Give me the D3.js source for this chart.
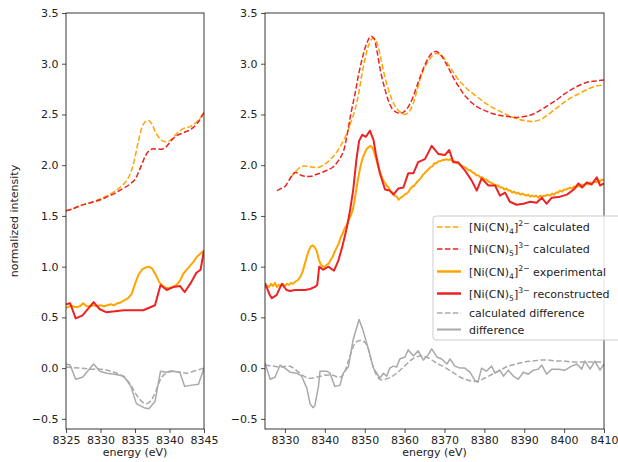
<!DOCTYPE html>
<html>
<head>
<meta charset="utf-8">
<script src="https://cdn.jsdelivr.net/npm/d3@7"></script>
<style>
  html, body { margin: 0; padding: 0; background: #fff; }
  svg { display: block; font-family: "DejaVu Sans", sans-serif; }
</style>
</head>
<body>
<svg id="chart" width="618" height="462"></svg>
<script>
// ---------- Left panel (pre-edge, 8325–8345 eV) ----------
const leftCalc4E = [8325, 8326, 8327, 8328, 8329, 8330, 8331, 8332, 8333, 8333.8, 8334.5, 8335, 8335.5, 8336, 8336.5, 8337, 8337.5, 8338, 8338.5, 8339, 8339.5, 8340, 8340.5, 8341, 8342, 8343, 8344, 8345];
const leftCalc4V = [1.55, 1.57, 1.60, 1.62, 1.64, 1.67, 1.70, 1.74, 1.79, 1.85, 1.95, 2.08, 2.24, 2.37, 2.43, 2.44, 2.40, 2.32, 2.27, 2.24, 2.23, 2.24, 2.27, 2.31, 2.36, 2.38, 2.43, 2.52];
const leftCalc5E = [8325, 8326, 8327, 8328, 8329, 8330, 8331, 8332, 8333, 8334, 8335, 8335.5, 8336, 8336.5, 8337, 8337.5, 8338, 8339, 8339.5, 8340, 8340.5, 8341, 8342, 8343, 8344, 8345];
const leftCalc5V = [1.55, 1.57, 1.60, 1.62, 1.64, 1.66, 1.69, 1.72, 1.76, 1.80, 1.86, 1.93, 2.01, 2.09, 2.14, 2.16, 2.16, 2.16, 2.18, 2.22, 2.26, 2.29, 2.32, 2.35, 2.41, 2.52];
const leftExpE = d3.range(8325, 8345.01, 0.5);
const leftExpV = [0.59, 0.61, 0.61, 0.60, 0.61, 0.64, 0.61, 0.61, 0.62, 0.61, 0.62, 0.61, 0.62, 0.63, 0.62, 0.64, 0.65, 0.67, 0.69, 0.73, 0.83, 0.92, 0.97, 0.99, 1.00, 0.98, 0.92, 0.85, 0.81, 0.79, 0.79, 0.80, 0.82, 0.86, 0.93, 0.97, 1.01, 1.05, 1.10, 1.13, 1.16];
const leftRecE = [8325, 8325.6, 8326.4, 8327.4, 8329, 8329.9, 8330.9, 8332.1, 8333.4, 8334.8, 8336.2, 8337.9, 8338.7, 8339.6, 8340.6, 8341.5, 8342.2, 8343, 8343.9, 8344.5, 8345];
const leftRecV = [0.63, 0.64, 0.49, 0.52, 0.65, 0.58, 0.55, 0.56, 0.57, 0.57, 0.57, 0.62, 0.82, 0.77, 0.80, 0.81, 0.75, 0.83, 0.94, 0.97, 1.16];
const leftCalcDiffE = [8325, 8327, 8329, 8330, 8331, 8332, 8333, 8334, 8334.5, 8335, 8335.5, 8336, 8336.5, 8337, 8337.5, 8338, 8338.5, 8339, 8339.5, 8340, 8340.5, 8341.5, 8342.5, 8343.5, 8344.5, 8345];
const leftCalcDiffV = [0.01, 0.00, -0.01, -0.01, -0.02, -0.04, -0.07, -0.13, -0.18, -0.24, -0.29, -0.33, -0.35, -0.34, -0.30, -0.23, -0.14, -0.08, -0.05, -0.03, -0.03, -0.04, -0.05, -0.03, -0.01, 0.00];
const leftDiffE = [8325, 8325.6, 8326.4, 8327.4, 8329, 8329.9, 8330.9, 8332.1, 8333.4, 8334.4, 8335.2, 8336.3, 8337, 8337.9, 8338.7, 8339.6, 8340.6, 8341.5, 8342.2, 8343, 8344.2, 8345];
const leftDiffV = [0.04, 0.03, -0.11, -0.09, 0.04, -0.03, -0.05, -0.06, -0.08, -0.18, -0.35, -0.39, -0.40, -0.33, -0.03, -0.04, -0.03, -0.04, -0.18, -0.17, -0.16, 0.00];

// ---------- Right panel (full edge, 8325–8410 eV) ----------
const rightCalc4E = [8331.5, 8332.5, 8333.5, 8334.5, 8335.5, 8337, 8338.5, 8340, 8341.5, 8343, 8344.5, 8345.5, 8346.5, 8347.6, 8348.5, 8349.2, 8350, 8350.8, 8351.7, 8352.4, 8353.2, 8354, 8355, 8356, 8357, 8358, 8359, 8360, 8361, 8362, 8363, 8364, 8365, 8366, 8367, 8368, 8369, 8370, 8371, 8372, 8373, 8374, 8375, 8376, 8378, 8380, 8382, 8384, 8386, 8388, 8390, 8392, 8394, 8396, 8398, 8400, 8402, 8404, 8406, 8408, 8410];
const rightCalc4V = [1.88, 1.93, 1.97, 1.99, 1.99, 1.98, 1.98, 2.01, 2.06, 2.13, 2.23, 2.31, 2.42, 2.55, 2.71, 2.87, 3.03, 3.16, 3.24, 3.25, 3.19, 3.06, 2.88, 2.74, 2.63, 2.56, 2.52, 2.50, 2.52, 2.59, 2.72, 2.86, 2.96, 3.03, 3.08, 3.10, 3.09, 3.05, 2.99, 2.93, 2.87, 2.82, 2.78, 2.74, 2.68, 2.62, 2.57, 2.53, 2.49, 2.46, 2.44, 2.43, 2.45, 2.50, 2.56, 2.62, 2.67, 2.71, 2.75, 2.78, 2.79];
const rightCalc5E = [8328, 8329, 8330, 8331, 8332, 8332.7, 8333.5, 8335, 8336.5, 8338, 8340, 8342, 8343.5, 8344.6, 8345.5, 8346.5, 8347.6, 8348.5, 8349.5, 8350.5, 8351.5, 8352.3, 8353, 8354, 8355, 8356, 8357, 8358, 8359, 8360, 8361, 8362, 8363, 8364, 8365, 8366, 8367, 8368, 8369, 8370, 8371, 8372, 8373, 8374, 8375, 8376, 8377, 8378, 8380, 8382, 8384, 8386, 8388, 8390, 8392, 8394, 8396, 8398, 8400, 8402, 8404, 8406, 8408, 8410];
const rightCalc5V = [1.75, 1.77, 1.79, 1.85, 1.91, 1.93, 1.91, 1.89, 1.89, 1.91, 1.94, 1.98, 2.05, 2.13, 2.28, 2.50, 2.71, 2.90, 3.07, 3.20, 3.27, 3.25, 3.14, 2.92, 2.76, 2.63, 2.55, 2.52, 2.51, 2.53, 2.58, 2.66, 2.77, 2.88, 2.98, 3.06, 3.11, 3.12, 3.09, 3.03, 2.96, 2.88, 2.81, 2.75, 2.69, 2.65, 2.61, 2.58, 2.54, 2.51, 2.49, 2.48, 2.47, 2.48, 2.50, 2.54, 2.59, 2.64, 2.70, 2.75, 2.79, 2.82, 2.83, 2.84];
const rightExpE = d3.range(8325, 8410.01, 0.5);
const rightExpV = [
  0.79, 0.81, 0.80, 0.83, 0.81, 0.84, 0.80, 0.82, 0.81, 0.83,
  0.81, 0.83, 0.82, 0.84, 0.83, 0.85, 0.86, 0.88, 0.91, 0.96,
  1.03, 1.10, 1.16, 1.20, 1.21, 1.19, 1.15, 1.07, 1.02, 1.00,
  1.00, 1.02, 1.03, 1.07, 1.10, 1.15, 1.19, 1.23, 1.29, 1.33,
  1.38, 1.41, 1.46, 1.50, 1.56, 1.66, 1.79, 1.90, 2.00, 2.07,
  2.12, 2.16, 2.18, 2.19, 2.17, 2.11, 2.04, 1.97, 1.92, 1.86,
  1.83, 1.80, 1.78, 1.74, 1.73, 1.70, 1.69, 1.66, 1.68, 1.69,
  1.71, 1.72, 1.74, 1.77, 1.79, 1.80, 1.83, 1.85, 1.87, 1.90,
  1.92, 1.94, 1.96, 1.98, 1.99, 2.02, 2.02, 2.04, 2.04, 2.05,
  2.05, 2.06, 2.05, 2.06, 2.04, 2.04, 2.02, 2.02, 2.00, 1.99,
  1.98, 1.97, 1.95, 1.95, 1.93, 1.92, 1.90, 1.90, 1.88, 1.88,
  1.86, 1.86, 1.84, 1.83, 1.82, 1.81, 1.80, 1.80, 1.78, 1.78,
  1.76, 1.77, 1.75, 1.75, 1.73, 1.74, 1.72, 1.73, 1.71, 1.72,
  1.71, 1.70, 1.71, 1.69, 1.70, 1.69, 1.70, 1.68, 1.70, 1.69,
  1.70, 1.70, 1.71, 1.70, 1.72, 1.71, 1.73, 1.73, 1.75, 1.74,
  1.76, 1.76, 1.77, 1.78, 1.77, 1.79, 1.78, 1.80, 1.79, 1.81,
  1.80, 1.82, 1.81, 1.83, 1.82, 1.84, 1.83, 1.85, 1.84, 1.86,
  1.85
];
const rightRecE = [8325, 8326.2, 8326.7, 8327.9, 8329.2, 8330.4, 8331.3, 8332.5, 8333.8, 8335, 8336.3, 8337.5, 8338.1, 8338.6, 8339.6, 8340.9, 8342.3, 8343.4, 8344.4, 8345.5, 8346.3, 8347.1, 8347.9, 8348.6, 8349.4, 8350.3, 8351.3, 8352.2, 8352.8, 8353.8, 8355.1, 8356.3, 8357.2, 8358.4, 8359.7, 8360.9, 8362.2, 8363.4, 8365.1, 8366.8, 8368.5, 8370.1, 8371.2, 8372.2, 8373.4, 8375.1, 8376.8, 8378.1, 8379.3, 8381, 8382.7, 8383.9, 8385.2, 8386.4, 8388.1, 8389.8, 8391.5, 8393.1, 8394.4, 8395.6, 8396.9, 8399, 8400.7, 8402.4, 8403.6, 8404.5, 8405.7, 8406.9, 8408.2, 8409, 8410];
const rightRecV = [0.84, 0.72, 0.69, 0.72, 0.83, 0.77, 0.76, 0.77, 0.77, 0.77, 0.78, 0.80, 0.82, 1.00, 0.97, 1.00, 0.96, 1.06, 1.20, 1.38, 1.55, 1.75, 2.05, 2.24, 2.30, 2.28, 2.34, 2.25, 2.11, 1.92, 1.76, 1.75, 1.71, 1.77, 1.78, 1.92, 1.92, 2.03, 2.06, 2.19, 2.11, 2.10, 2.15, 2.03, 2.03, 1.95, 1.85, 1.75, 1.87, 1.80, 1.80, 1.70, 1.73, 1.64, 1.61, 1.62, 1.64, 1.63, 1.68, 1.62, 1.68, 1.69, 1.71, 1.76, 1.82, 1.78, 1.83, 1.81, 1.88, 1.80, 1.82];
const rightCalcDiffE = [8325, 8327, 8329, 8331, 8332.5, 8334, 8336, 8338, 8340, 8342, 8343.5, 8344.5, 8346, 8347.5, 8348.5, 8349.5, 8350.5, 8351.5, 8352.5, 8353.8, 8355, 8356.5, 8358, 8360, 8362, 8364, 8366, 8368, 8370, 8372, 8374, 8376, 8378, 8380, 8382, 8384, 8386, 8388, 8390, 8392, 8394, 8396, 8398, 8400, 8402, 8404, 8406, 8408, 8410];
const rightCalcDiffV = [0.03, 0.02, 0.01, 0.02, -0.01, -0.06, -0.10, -0.09, -0.07, -0.07, -0.09, -0.07, 0.08, 0.24, 0.27, 0.27, 0.23, 0.10, -0.03, -0.11, -0.11, -0.09, -0.05, 0.02, 0.09, 0.12, 0.10, 0.05, 0.01, -0.04, -0.09, -0.12, -0.13, -0.10, -0.06, -0.02, 0.02, 0.04, 0.06, 0.07, 0.08, 0.08, 0.07, 0.07, 0.06, 0.06, 0.06, 0.06, 0.06];
const rightDiffE = [8325, 8326.3, 8327.5, 8328.8, 8330, 8331.3, 8333, 8334.2, 8335.5, 8336.3, 8337, 8337.5, 8338.4, 8338.8, 8340.5, 8341.3, 8342.5, 8343.8, 8344.6, 8345.9, 8347.1, 8348.6, 8349.6, 8350.9, 8352.2, 8353.8, 8354.7, 8355.5, 8356.3, 8357.2, 8358, 8358.8, 8360.1, 8360.9, 8362.2, 8363.4, 8364.7, 8365.9, 8366.8, 8368.1, 8369.3, 8370.6, 8371.4, 8372.6, 8373.9, 8375.1, 8376.4, 8377.6, 8378.4, 8379.3, 8380.5, 8381.8, 8382.7, 8383.9, 8384.8, 8386, 8387.3, 8388.5, 8389.8, 8391, 8392.3, 8393.5, 8394.4, 8395.6, 8396.9, 8398.6, 8400.2, 8401.9, 8403.2, 8404.4, 8405.2, 8406.5, 8407.7, 8409, 8410];
const rightDiffV = [0.05, -0.11, -0.09, 0.03, 0.00, -0.04, -0.05, -0.08, -0.20, -0.35, -0.39, -0.37, -0.18, -0.03, -0.03, -0.05, -0.18, -0.17, -0.05, 0.01, 0.28, 0.48, 0.37, 0.19, 0.00, -0.10, -0.05, -0.08, 0.00, 0.02, 0.01, 0.09, 0.11, 0.18, 0.12, 0.17, 0.08, 0.13, 0.19, 0.11, 0.09, 0.04, 0.09, 0.02, 0.00, 0.00, -0.04, -0.12, -0.14, 0.00, -0.03, 0.02, -0.05, -0.02, -0.08, -0.02, -0.08, -0.11, -0.04, -0.06, -0.02, -0.01, 0.03, -0.06, -0.01, -0.01, -0.02, 0.02, 0.04, -0.01, 0.07, -0.01, 0.07, -0.02, 0.04];

// ---------- Axes settings ----------
const yTicks = [-0.5, 0.0, 0.5, 1.0, 1.5, 2.0, 2.5, 3.0, 3.5];
const leftXTicks = [8325, 8330, 8335, 8340, 8345];
const rightXTicks = [8330, 8340, 8350, 8360, 8370, 8380, 8390, 8400, 8410];
const yDomain = [-0.6, 3.5];

const legendLabels = [
  { base: "[Ni(CN)", sub: "4", sup: "2\u2212", tail: " calculated" },
  { base: "[Ni(CN)", sub: "5", sup: "3\u2212", tail: " calculated" },
  { base: "[Ni(CN)", sub: "4", sup: "2\u2212", tail: " experimental" },
  { base: "[Ni(CN)", sub: "5", sup: "3\u2212", tail: " reconstructed" },
  { text: "calculated difference" },
  { text: "difference" }
];

const ORANGE = "#ffa500", RED = "#ee2222", GREY = "#a9a9a9";
const styles = [
  { color: ORANGE, width: 1.5, dash: "5.5,2.4", smooth: true },
  { color: RED, width: 1.5, dash: "5.5,2.4", smooth: true },
  { color: ORANGE, width: 2, dash: null },
  { color: RED, width: 2, dash: null },
  { color: GREY, width: 1.5, dash: "5.5,2.4", smooth: true },
  { color: GREY, width: 1.5, dash: null }
];

const svg = d3.select("#chart");
const FONT = 11;
const axTop = 13, axBottom = 429;
const y = d3.scaleLinear().domain(yDomain).range([axBottom, axTop]);
const fmt = v => d3.format(".1f")(v).replace("-", "\u2212");

function panel(id, x0, x1, domain, xticks, series) {
  const x = d3.scaleLinear().domain(domain).range([x0, x1]);
  const g = svg.append("g");
  g.append("clipPath").attr("id", id).append("rect")
    .attr("x", x0).attr("y", axTop).attr("width", x1 - x0).attr("height", axBottom - axTop);

  const plot = g.append("g").attr("clip-path", `url(#${id})`);
  series.forEach((s, i) => {
    const st = styles[i];
    const pts = s.E.map((e, k) => [e, s.V[k]]);
    const line = d3.line().x(d => x(d[0])).y(d => y(d[1]))
      .curve(st.smooth ? d3.curveCatmullRom.alpha(0.5) : d3.curveLinear);
    plot.append("path").datum(pts)
      .attr("d", line).attr("fill", "none")
      .attr("stroke", st.color).attr("stroke-width", st.width)
      .attr("stroke-dasharray", st.dash)
      .attr("stroke-linejoin", "round");
  });

  const xa = g.append("g").attr("transform", `translate(0,${axBottom})`)
    .call(d3.axisBottom(x).tickValues(xticks).tickFormat(d3.format("d")).tickSize(4).tickPadding(3.5));
  const ya = g.append("g").attr("transform", `translate(${x0},0)`)
    .call(d3.axisLeft(y).tickValues(yTicks).tickFormat(fmt).tickSize(4).tickPadding(3.5));
  [xa, ya].forEach(a => {
    a.select(".domain").remove();
    a.selectAll("text").attr("font-size", FONT).attr("fill", "#222").attr("font-family", "DejaVu Sans");
    a.selectAll("line").attr("stroke", "#222").attr("stroke-width", 0.8);
  });

  g.append("rect").attr("x", x0).attr("y", axTop).attr("width", x1 - x0).attr("height", axBottom - axTop)
    .attr("fill", "none").attr("stroke", "#222").attr("stroke-width", 0.9);

  g.append("text").attr("x", (x0 + x1) / 2).attr("y", 456)
    .attr("text-anchor", "middle").attr("font-size", FONT).attr("fill", "#222")
    .text("energy (eV)");
}

panel("clipL", 66, 204, [8325, 8345], leftXTicks, [
  { E: leftCalc4E, V: leftCalc4V },
  { E: leftCalc5E, V: leftCalc5V },
  { E: leftExpE, V: leftExpV },
  { E: leftRecE, V: leftRecV },
  { E: leftCalcDiffE, V: leftCalcDiffV },
  { E: leftDiffE, V: leftDiffV }
]);

panel("clipR", 265, 604, [8325, 8410], rightXTicks, [
  { E: rightCalc4E, V: rightCalc4V },
  { E: rightCalc5E, V: rightCalc5V },
  { E: rightExpE, V: rightExpV },
  { E: rightRecE, V: rightRecV },
  { E: rightCalcDiffE, V: rightCalcDiffV },
  { E: rightDiffE, V: rightDiffV }
]);

svg.append("text")
  .attr("transform", `translate(18,${(axTop + axBottom) / 2}) rotate(-90)`)
  .attr("text-anchor", "middle").attr("font-size", FONT).attr("fill", "#222")
  .text("normalized intensity");

// Legend
const lg = svg.append("g");
lg.append("rect").attr("x", 433).attr("y", 216).attr("width", 200).attr("height", 124)
  .attr("rx", 3).attr("fill", "#fff").attr("fill-opacity", 0.85)
  .attr("stroke", "#cccccc").attr("stroke-width", 1);
const rowY = [227, 249, 271.5, 293.5, 313, 329.5];
legendLabels.forEach((lab, i) => {
  const st = styles[i];
  const yy = rowY[i];
  lg.append("line").attr("x1", 437).attr("x2", 461).attr("y1", yy).attr("y2", yy)
    .attr("stroke", st.color).attr("stroke-width", st.width + (st.dash ? 0 : 0.5))
    .attr("stroke-dasharray", st.dash);
  const t = lg.append("text").attr("x", 469).attr("y", yy + 4)
    .attr("font-size", FONT).attr("fill", "#222");
  if (lab.text) {
    t.text(lab.text);
  } else {
    t.append("tspan").text(lab.base);
    t.append("tspan").attr("font-size", FONT * 0.7).attr("dy", 3).text(lab.sub);
    t.append("tspan").attr("dy", -3).text("]");
    t.append("tspan").attr("font-size", FONT * 0.7).attr("dy", -5).text(lab.sup);
    t.append("tspan").attr("dy", 5).text(lab.tail);
  }
});
</script>
</body>
</html>
